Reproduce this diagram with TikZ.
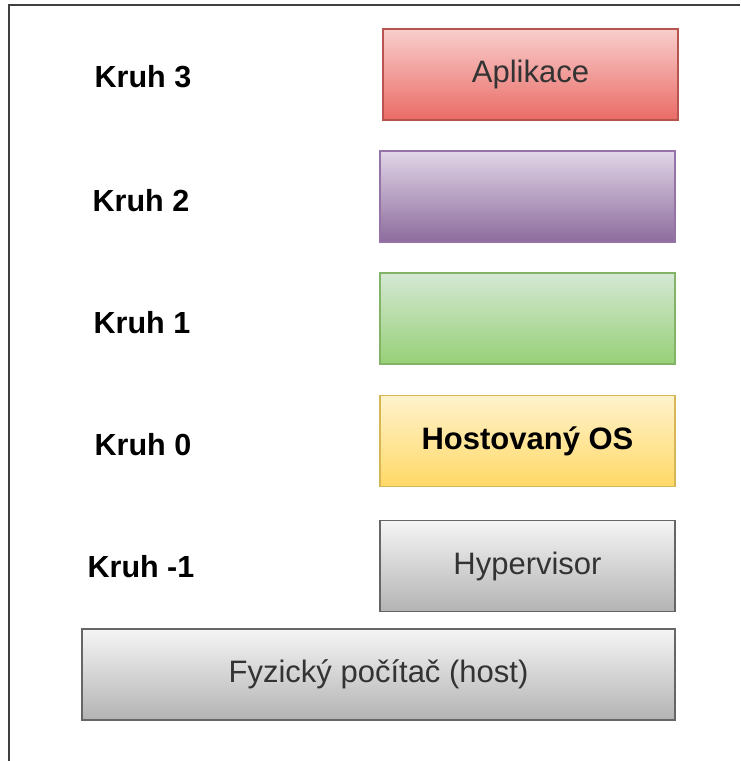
\documentclass[tikz,border=0pt]{standalone}
\usepackage{fontspec}
\setmainfont{Liberation Sans}
\definecolor{redT}{HTML}{F8CECC}\definecolor{redB}{HTML}{EA6B66}\definecolor{redD}{HTML}{B85450}
\definecolor{purT}{HTML}{E1D5E7}\definecolor{purB}{HTML}{8C6C9C}\definecolor{purD}{HTML}{9673A6}
\definecolor{grnT}{HTML}{D5E8D4}\definecolor{grnB}{HTML}{97D077}\definecolor{grnD}{HTML}{82B366}
\definecolor{yelT}{HTML}{FFF2CC}\definecolor{yelB}{HTML}{FFD966}\definecolor{yelD}{HTML}{D6B656}
\definecolor{gryT}{HTML}{F5F5F5}\definecolor{gryB}{HTML}{B3B3B3}\definecolor{gryD}{HTML}{666666}
\definecolor{txt}{HTML}{333333}
\begin{document}
\begin{tikzpicture}[x=1pt,y=-1pt,
  layer/.style={rectangle, minimum width=295pt, minimum height=91pt, line width=1.5pt, inner sep=0pt,
    font=\fontsize{31}{36}\selectfont, text=txt},
  ring/.style={font=\fontsize{30.5}{36}\selectfont\bfseries, text=black},
  redbox/.style={layer, draw=redD, top color=redT, bottom color=redB},
  purbox/.style={layer, draw=purD, top color=purT, bottom color=purB},
  grnbox/.style={layer, draw=grnD, top color=grnT, bottom color=grnB},
  yelbox/.style={layer, draw=yelD, top color=yelT, bottom color=yelB},
  grybox/.style={layer, draw=gryD, top color=gryT, bottom color=gryB}]
\useasboundingbox (0,0) rectangle (740,761);
\draw[line width=2.5pt, color=black!75] (9,761) -- (9,5) -- (740,5);
\node[redbox] (app) at (530.5,74.5) {Aplikace};
\node[purbox] (r2) at (527.5,196.5) {};
\node[grnbox] (r1) at (527.5,318.5) {};
\node[yelbox, font=\fontsize{31}{36}\selectfont\bfseries, text=black] (os) at (527.5,441) {Hostovaný OS};
\node[grybox] (hyp) at (527.5,566) {Hypervisor};
\node[grybox, minimum width=593pt] (host) at (378.5,674.5) {Fyzický počítač (host)};
\node[ring] (k3) at (143,77) {Kruh 3};
\node[ring] (k2) at (141,201) {Kruh 2};
\node[ring] (k1) at (142,323) {Kruh 1};
\node[ring] (k0) at (143,445) {Kruh 0};
\node[ring] (km1) at (141,567) {Kruh -1};
\end{tikzpicture}
\end{document}
